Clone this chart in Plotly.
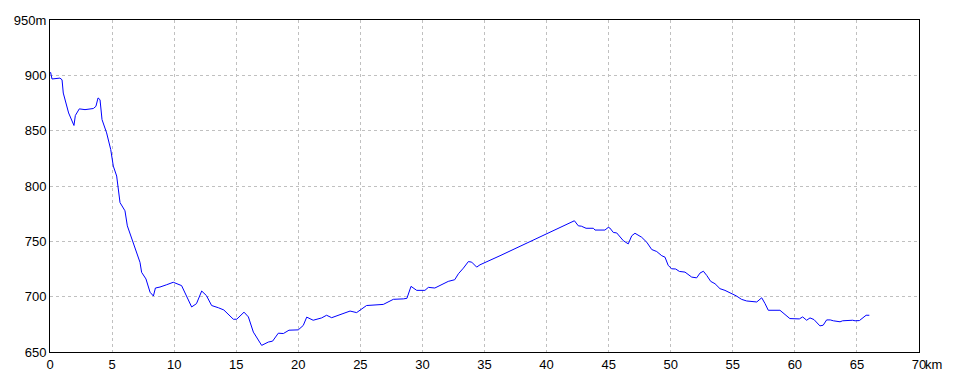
import plotly.graph_objects as go

dist_km = [0.0, 0.05, 0.16, 0.8, 0.97, 1.07, 1.5, 1.93, 2.04, 2.36, 2.82, 3.49, 3.7, 3.87, 4.03,
           4.19, 4.56, 4.89, 5.1, 5.37, 5.64, 6.04, 6.23, 6.58, 6.98, 7.25, 7.38, 7.73, 8.06,
           8.33, 8.49, 8.86, 9.4, 9.93, 10.6, 11.0, 11.41, 11.8, 12.22, 12.6, 13.02, 13.56,
           14.0, 14.77, 15.04, 15.63, 15.98, 16.38, 17.05, 17.59, 17.93, 18.39, 18.8, 19.25,
           20.0, 20.4, 20.68, 21.2, 21.88, 22.28, 22.69, 23.6, 24.17, 24.7, 25.1, 25.5, 26.85,
           27.25, 27.66, 28.46, 28.75, 29.08, 29.54, 30.2, 30.48, 31.0, 31.55, 32.08, 32.6,
           32.9, 33.3, 33.7, 33.97, 34.37, 34.64, 36.25, 42.24, 42.56, 42.8, 43.18, 43.77,
           43.9, 44.7, 44.97, 45.1, 45.38, 45.65, 46.18, 46.58, 46.86, 47.12, 47.66, 48.07,
           48.47, 48.87, 49.28, 49.54, 49.8, 50.08, 50.4, 50.7, 51.15, 51.69, 52.09, 52.36,
           52.63, 52.9, 53.22, 53.57, 53.97, 54.37, 54.91, 55.3, 55.7, 56.12, 56.93, 57.33,
           57.6, 57.86, 58.8, 59.2, 59.6, 60.36, 60.63, 60.95, 61.22, 61.54, 61.76, 62.02,
           62.28, 62.56, 62.85, 63.1, 63.64, 63.85, 64.66, 64.85, 65.2, 65.52, 65.74, 66.0]
elev_m = [902, 902.6, 896.7, 897.5, 896, 884, 866, 854.7, 863.7, 869.7, 869, 870, 872, 879.6, 878,
          860, 848, 833, 818, 809, 785, 777.6, 764, 752, 740, 731, 722, 716, 704,
          700.6, 707.8, 708.7, 710.8, 713, 710, 701, 690.7, 693.7, 705.1, 701, 692, 690,
          688, 679.6, 679.6, 686, 681.7, 668, 656, 659, 659.8, 667, 666.7, 669.7,
          670, 674, 681.5, 678.7, 680.8, 683.2, 681, 684.7, 687, 685.6, 688.6, 692, 693,
          695, 697.6, 698, 698.5, 709.3, 705.7, 705.7, 708.4, 707.8, 711, 713.8, 715.3,
          720.7, 725.8, 731.7, 731.2, 726.7, 728.8, 737, 768.6, 764, 763.7, 761.8, 761.8,
          760.2, 760.2, 762.6, 762, 758, 757.6, 750.6, 747.7, 755, 757.3, 753.7, 749.2,
          742.6, 740.8, 737, 735.7, 728.2, 725.2, 725, 722.8, 722.2, 717.7, 717, 721.3,
          723, 719.2, 713.8, 711.7, 707.2, 705.7, 702.7, 700.6, 697.6, 696.1, 695.2, 699,
          693.7, 687.7, 687.7, 683.8, 680.2, 679.9, 681.7, 678.7, 680.8, 679.3, 676.6, 673.6,
          674.2, 679, 679, 678.2, 677.3, 678.2, 678.7, 678.2, 678.4, 680.8, 683.2, 683.2]

x_tick_vals = [0, 5, 10, 15, 20, 25, 30, 35, 40, 45, 50, 55, 60, 65, 70]
x_tick_text = ["0", "5", "10", "15", "20", "25", "30", "35", "40", "45", "50", "55", "60", "65", "70"]
y_tick_vals = [650, 700, 750, 800, 850, 900, 950]
y_tick_text = ["650", "700", "750", "800", "850", "900", "950m"]

label_font = dict(family="Liberation Sans Narrow, Liberation Sans, Arial", size=13, color="black")

fig = go.Figure()
fig.add_trace(go.Scatter(x=dist_km, y=elev_m, mode="lines",
                         line=dict(color="#0000ff", width=1), hoverinfo="skip"))

axis_common = dict(showgrid=True, gridcolor="#c0c0c0", griddash="3px,3px", gridwidth=1,
                   showline=True, linecolor="black", linewidth=1, mirror=True,
                   zeroline=False, ticks="", tickfont=label_font)

fig.update_layout(
    width=960, height=384,
    margin=dict(l=50, r=41, t=20, b=30),
    paper_bgcolor="white", plot_bgcolor="white",
    showlegend=False,
    xaxis=dict(range=[0, 70], tickmode="array", tickvals=x_tick_vals, ticktext=x_tick_text, **axis_common),
    yaxis=dict(range=[650, 950], tickmode="array", tickvals=y_tick_vals, ticktext=y_tick_text, **axis_common),
    annotations=[dict(x=70, y=0, xref="x", yref="paper", text="km", showarrow=False,
                      xanchor="left", yanchor="top", xshift=4, yshift=-3,
                      font=label_font)],
)

fig.write_html("out.html")
